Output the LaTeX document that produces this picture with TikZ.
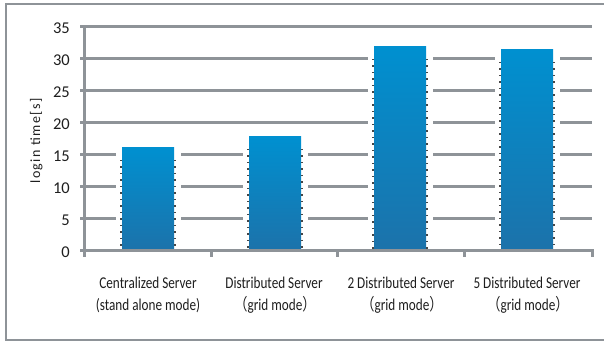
\documentclass[tikz,border=0pt]{standalone}
\usepackage{fontspec}
\setmainfont{Carlito}
\newfontfamily\catfont[FakeStretch=0.8]{Carlito}
\newfontfamily\cjkfont[FakeStretch=0.8]{Noto Sans CJK JP}
\newfontfamily\ylfont[LetterSpace=10]{Carlito}
\definecolor{gridgray}{RGB}{142,147,152}
\definecolor{bartop}{RGB}{0,144,208}
\definecolor{barbot}{RGB}{28,114,170}
\definecolor{txt}{RGB}{30,30,30}
\definecolor{dotgray}{RGB}{70,70,70}
\tikzset{
  gridline/.style={draw=gridgray, line width=3pt},
  axisline/.style={draw=gridgray, line width=3pt},
  frameline/.style={draw=gridgray, line width=2.2pt},
  dotline/.style={draw=dotgray, line width=1.3pt, dash pattern=on 1.3pt off 5.2pt},
  barshade/.style={top color=bartop, bottom color=barbot},
  ticklabel/.style={anchor=base east, inner sep=0, text=txt, font=\fontsize{16.5}{16.5}\selectfont},
  catlabel/.style={anchor=base, inner sep=0, text=txt, font=\catfont\fontsize{16.5}{22}\selectfont},
  ylabel/.style={anchor=base, inner sep=0, rotate=90, text=txt, font=\ylfont\fontsize{14}{14}\selectfont}
}
\begin{document}
\begin{tikzpicture}[x=1pt,y=-1pt]
\path[use as bounding box] (0,0) rectangle (604,344);
\clip (0,0) rectangle (604,344);
% frame
\draw[frameline] (612,4) -- (6,4) -- (6,340) -- (612,340);
% gridlines
\foreach \v in {5,10,...,35}{
  \draw[gridline] (80,{251-6.4*\v}) -- (592,{251-6.4*\v});
}
% bars
\foreach \n/\c/\t in {b1/148/148, b2/275/137, b3/400/47, b4/527/50}{
  \fill[white] (\c-32,251) rectangle (\c+33,\t);
  \shade[barshade] (\c-26,251) rectangle (\c+26,\t);
  \coordinate (\n) at (\c,\t);
  \draw[dotline] (\c-27,\t+12) -- (\c-27,250);
  \draw[dotline] (\c+27,\t+12) -- (\c+27,250);
}
% axes
\coordinate (ytop) at (84,27);
\coordinate (origin) at (84,251);
\coordinate (xend) at (592,251);
\draw[axisline] (ytop) -- (84,257.5);
\draw[axisline] (80,251) -- (xend) -- (592,257.5);
\foreach \x in {211,337.5,464}{
  \draw[axisline] (\x,251) -- (\x,257.5);
}
% tick labels
\foreach \v in {0,5,...,35}{
  \node[ticklabel] (t\v) at (70,{258-6.4*\v}) {\v};
}
% y label
\node[ylabel] (yl) at (40,141) {login time[s]};
% category labels
\node[catlabel] (l1a) at (148,288) {Centralized Server};
\node[catlabel] (l1b) at (148,310) {(stand alone mode)};
\node[catlabel] (l2a) at (274,288) {Distributed Server};
\node[catlabel] (l2b) at (275,310) {{\cjkfont （}grid mode{\cjkfont ）}};
\node[catlabel] (l3a) at (401,288) {2 Distributed Server};
\node[catlabel] (l3b) at (402,310) {{\cjkfont （}grid mode{\cjkfont ）}};
\node[catlabel] (l4a) at (527,288) {5 Distributed Server};
\node[catlabel] (l4b) at (528,310) {{\cjkfont （}grid mode{\cjkfont ）}};
\end{tikzpicture}
\end{document}
